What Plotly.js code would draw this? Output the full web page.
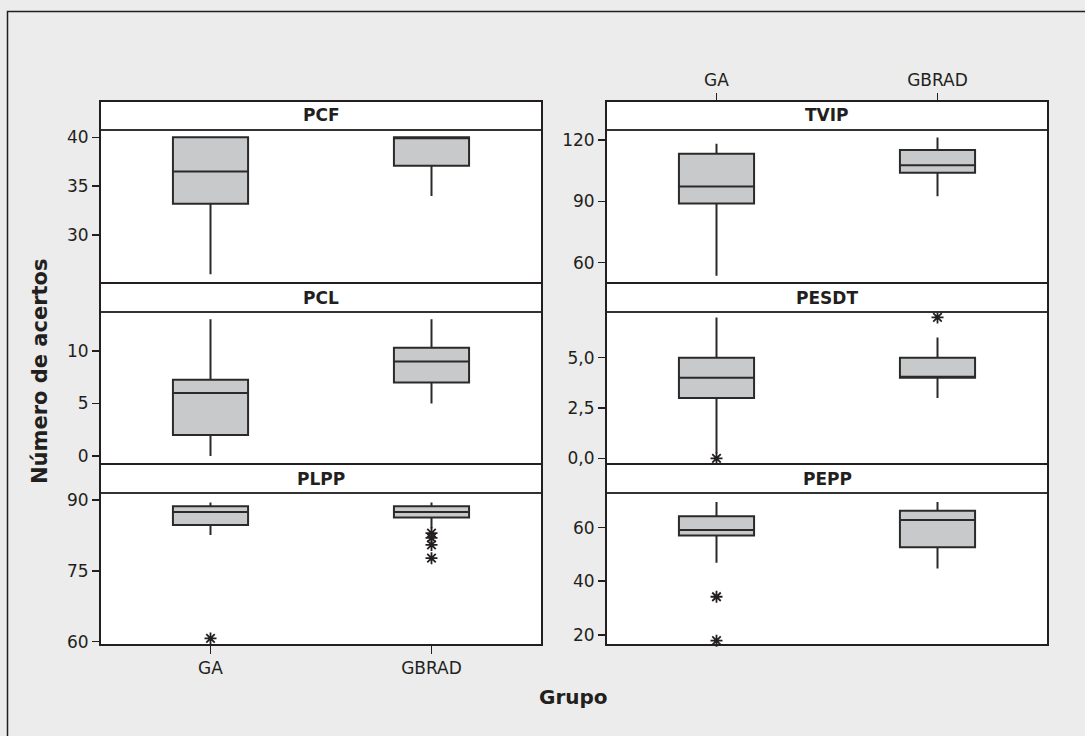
<!DOCTYPE html>
<html>
<head>
<meta charset="utf-8">
<script src="https://cdn.plot.ly/plotly-3.0.1.min.js"></script>
<style>
  html, body { margin: 0; padding: 0; background: #ebeceb; }
  #chart { width: 1085px; height: 736px; }
</style>
</head>
<body>
<div id="chart"></div>
<script>
// ---------------- DATA ----------------
const groups = ['GA', 'GBRAD'];
const panelNames = ['PCF', 'TVIP', 'PCL', 'PESDT', 'PLPP', 'PEPP'];

// box statistics per panel, order = groups
const pcfLow = [26, 34], pcfQ1 = [33.2, 37.1], pcfMed = [36.5, 40], pcfQ3 = [40, 40], pcfHigh = [40, 40];
const tvipLow = [53.5, 92.5], tvipQ1 = [89, 104], tvipMed = [97.3, 107.7], tvipQ3 = [113.4, 115.2], tvipHigh = [118.3, 121.3];
const pclLow = [0, 5], pclQ1 = [2, 7], pclMed = [6, 9], pclQ3 = [7.25, 10.3], pclHigh = [13, 13];
const pesdtLow = [0.25, 3], pesdtQ1 = [3, 4], pesdtMed = [4, 4], pesdtQ3 = [5, 5], pesdtHigh = [7, 6];
const plppLow = [82.6, 84], plppQ1 = [84.7, 86.3], plppMed = [87.5, 87.5], plppQ3 = [88.7, 88.7], plppHigh = [89.5, 89.5];
const peppLow = [46.9, 44.7], peppQ1 = [57, 52.7], peppMed = [59.1, 62.8], peppQ3 = [64.2, 66.3], peppHigh = [69.5, 69.5];

// outliers
const pesdtOutX = ['GA', 'GBRAD'], pesdtOutY = [0, 7];
const plppOutX = ['GA', 'GBRAD', 'GBRAD', 'GBRAD', 'GBRAD'], plppOutY = [60.7, 83, 82, 80.5, 77.7];
const peppOutX = ['GA', 'GA'], peppOutY = [34.2, 17.8];

// y-axis ticks
const pcfTicks = [30, 35, 40], pcfTickText = ['30', '35', '40'];
const tvipTicks = [60, 90, 120], tvipTickText = ['60', '90', '120'];
const pclTicks = [0, 5, 10], pclTickText = ['0', '5', '10'];
const pesdtTicks = [0, 2.5, 5], pesdtTickText = ['0,0', '2,5', '5,0'];
const plppTicks = [60, 75, 90], plppTickText = ['60', '75', '90'];
const peppTicks = [20, 40, 60], peppTickText = ['20', '40', '60'];

const yTitle = 'Número de acertos';
const xTitle = 'Grupo';

// ---------------- LAYOUT HELPERS ----------------
const W = 1085, H = 736;
const px = x => x / W;
const py = y => 1 - y / H;

const cols = [[100, 542], [606, 1048]];
const plotRows = [[130, 283], [312, 464], [493, 645]];
const stripRows = [[101, 130], [283, 312], [464, 493]];

const dark = '#231f20';
const font = 'DejaVu Sans, Verdana, sans-serif';

const stats = [
  [pcfLow, pcfQ1, pcfMed, pcfQ3, pcfHigh],
  [tvipLow, tvipQ1, tvipMed, tvipQ3, tvipHigh],
  [pclLow, pclQ1, pclMed, pclQ3, pclHigh],
  [pesdtLow, pesdtQ1, pesdtMed, pesdtQ3, pesdtHigh],
  [plppLow, plppQ1, plppMed, plppQ3, plppHigh],
  [peppLow, peppQ1, peppMed, peppQ3, peppHigh]
];
const ticks = [
  [pcfTicks, pcfTickText], [tvipTicks, tvipTickText], [pclTicks, pclTickText],
  [pesdtTicks, pesdtTickText], [plppTicks, plppTickText], [peppTicks, peppTickText]
];
const yRanges = [[25.1, 40.75], [50, 125], [-0.76, 13.7], [-0.28, 7.27], [59.3, 91.5], [16.2, 72.9]];
const outliers = [null, null, null, [pesdtOutX, pesdtOutY], [plppOutX, plppOutY], [peppOutX, peppOutY]];

const data = [];
const layout = {
  width: W, height: H,
  margin: {l: 0, r: 0, t: 0, b: 0},
  paper_bgcolor: '#ebeceb',
  plot_bgcolor: '#ffffff',
  showlegend: false,
  font: {family: font, color: dark, size: 17},
  shapes: [],
  annotations: []
};

for (let i = 0; i < 6; i++) {
  const n = i + 1;
  const xs = n === 1 ? 'x' : 'x' + n;
  const ys = n === 1 ? 'y' : 'y' + n;
  const xk = n === 1 ? 'xaxis' : 'xaxis' + n;
  const yk = n === 1 ? 'yaxis' : 'yaxis' + n;
  const c = cols[i % 2];
  const r = Math.floor(i / 2);
  const pr = plotRows[r], sr = stripRows[r];
  const s = stats[i];

  data.push({
    type: 'box', xaxis: xs, yaxis: ys,
    x: groups,
    lowerfence: s[0], q1: s[1], median: s[2], q3: s[3], upperfence: s[4],
    width: 0.34,
    whiskerwidth: 0,
    fillcolor: '#c8c9cb',
    line: {color: '#2a2a2a', width: 2},
    boxpoints: false,
    hoverinfo: 'skip'
  });
  if (outliers[i]) {
    data.push({
      type: 'scatter', mode: 'markers', xaxis: xs, yaxis: ys,
      x: outliers[i][0], y: outliers[i][1],
      marker: {symbol: 'asterisk-open', size: 10, color: dark, line: {width: 1.8, color: dark}},
      hoverinfo: 'skip', cliponaxis: false
    });
  }

  const xa = {
    domain: [px(c[0]), px(c[1])],
    anchor: ys,
    type: 'category',
    categoryorder: 'array', categoryarray: groups,
    range: [-0.5, 1.5],
    showgrid: false, zeroline: false, showline: false,
    showticklabels: false, ticks: '',
    fixedrange: true
  };
  if (n === 5) {
    xa.showticklabels = true;
    xa.ticks = 'outside'; xa.ticklen = 8; xa.tickwidth = 1.5; xa.tickcolor = dark;
    xa.tickfont = {size: 17, family: font, color: dark};
  }
  if (n === 2) {
    xa.anchor = 'free';
    xa.position = py(sr[0]);
    xa.side = 'top';
    xa.showticklabels = true;
    xa.ticks = 'outside'; xa.ticklen = 8; xa.tickwidth = 1.5; xa.tickcolor = dark;
    xa.tickfont = {size: 17, family: font, color: dark};
  }
  layout[xk] = xa;

  layout[yk] = {
    domain: [py(pr[1]), py(pr[0])],
    anchor: xs,
    range: yRanges[i],
    tickvals: ticks[i][0], ticktext: ticks[i][1],
    ticks: 'outside', ticklen: 7, tickwidth: 1.5, tickcolor: dark,
    tickfont: {size: 17, family: font, color: dark},
    showgrid: false, zeroline: false, showline: false,
    fixedrange: true
  };

  // strip
  layout.shapes.push({
    type: 'rect', xref: 'paper', yref: 'paper',
    x0: px(c[0]), x1: px(c[1]), y0: py(sr[1]), y1: py(sr[0]),
    fillcolor: '#ffffff', line: {width: 0}, layer: 'below'
  });
  layout.shapes.push({
    type: 'line', xref: 'paper', yref: 'paper',
    x0: px(c[0]), x1: px(c[1]), y0: py(sr[1]), y1: py(sr[1]),
    line: {color: '#333333', width: 2}
  });
  // panel border
  layout.shapes.push({
    type: 'rect', xref: 'paper', yref: 'paper',
    x0: px(c[0]), x1: px(c[1]), y0: py(pr[1]), y1: py(sr[0]),
    line: {color: dark, width: 2}, fillcolor: 'rgba(0,0,0,0)'
  });
  layout.annotations.push({
    xref: 'paper', yref: 'paper',
    x: px((c[0] + c[1]) / 2), y: py((sr[0] + sr[1]) / 2),
    xanchor: 'center', yanchor: 'middle',
    text: '<b>' + panelNames[i] + '</b>', showarrow: false,
    font: {size: 17, family: font, color: dark}
  });
}

// outer frame (partially visible)
layout.shapes.push({
  type: 'rect', xref: 'paper', yref: 'paper',
  x0: px(7.5), x1: px(1120), y0: py(780), y1: py(11.5),
  line: {color: dark, width: 1.5}, fillcolor: 'rgba(0,0,0,0)', layer: 'below'
});

layout.annotations.push({
  xref: 'paper', yref: 'paper', x: px(40), y: py(371),
  xanchor: 'center', yanchor: 'middle', textangle: -90,
  text: '<b>' + yTitle + '</b>', showarrow: false,
  font: {size: 21, family: font, color: dark}
});
layout.annotations.push({
  xref: 'paper', yref: 'paper', x: px(573), y: py(697),
  xanchor: 'center', yanchor: 'middle',
  text: '<b>' + xTitle + '</b>', showarrow: false,
  font: {size: 20, family: font, color: dark}
});

Plotly.newPlot('chart', data, layout, {staticPlot: true, displayModeBar: false});
</script>
</body>
</html>
